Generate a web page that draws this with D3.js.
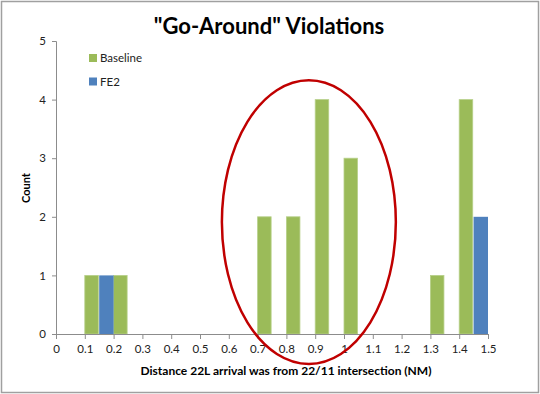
<!DOCTYPE html>
<html><head><meta charset="utf-8">
<script src="https://cdn.jsdelivr.net/npm/d3@7"></script>
<style>body{margin:0;background:#fff}svg{display:block}</style>
</head><body>
<script>
const title = '"Go-Around" Violations';
const xTicks = [0,0.1,0.2,0.3,0.4,0.5,0.6,0.7,0.8,0.9,1.0,1.1,1.2,1.3,1.4,1.5];
const yTicks = [0,1,2,3,4,5];
const baselineX = [0.1,0.2,0.7,0.8,0.9,1.0,1.3,1.4];
const baselineY = [1,1,2,2,4,3,1,4];
const fe2X = [0.1,1.4];
const fe2Y = [1,2];
const seriesNames = ["Baseline","FE2"];
const colors = ["#9BBB59","#4F81BD"];
// highlighted region (data units): center x, center y, x radius, y radius
const ellipse = {cx:0.878, cy:1.91, rx:0.302, ry:2.42};

const W=540,H=394;
const svg=d3.select("body").append("svg").attr("width",W).attr("height",H);
svg.append("rect").attr("x",1.5).attr("y",1.5).attr("width",W-3).attr("height",H-3)
  .attr("fill","#fff").attr("stroke","#a0a0a0").attr("stroke-width",1.5);
const font="Lato, 'Open Sans', sans-serif";
const x=d3.scaleLinear().domain([0,1.5]).range([56,488]);
const y=d3.scaleLinear().domain([0,5]).range([334,41]);

svg.append("text").attr("x",269).attr("y",34).attr("text-anchor","middle")
  .attr("font-family",font).attr("font-weight","bold").attr("font-size",22).text(title);

const bw=0.047;
const g=svg.append("g");
g.selectAll(".b").data(baselineX).enter().append("rect")
  .attr("x",d=>x(d)).attr("width",x(bw)-x(0))
  .attr("y",(d,i)=>y(baselineY[i])).attr("height",(d,i)=>y(0)-y(baselineY[i]))
  .attr("fill",colors[0]).attr("stroke","#b7d08a").attr("stroke-width",0.8);
g.selectAll(".f").data(fe2X).enter().append("rect")
  .attr("x",d=>x(d+0.05)).attr("width",x(0.05)-x(0))
  .attr("y",(d,i)=>y(fe2Y[i])).attr("height",(d,i)=>y(0)-y(fe2Y[i]))
  .attr("fill",colors[1]);

const xa=svg.append("g").attr("transform",`translate(0,${y(0)})`)
  .call(d3.axisBottom(x).tickValues(xTicks).tickSize(5).tickPadding(6).tickFormat(d=>String(+d.toFixed(1))));
const ya=svg.append("g").attr("transform",`translate(${x(0)},0)`)
  .call(d3.axisLeft(y).tickValues(yTicks).tickSize(4).tickPadding(6).tickFormat(d3.format("d")));
[xa,ya].forEach(a=>{
  a.select(".domain").attr("stroke","#8c8c8c");
  a.selectAll(".tick line").attr("stroke","#8c8c8c");
  a.selectAll("text").attr("font-family",font).attr("font-size",11.5).attr("fill","#222");
});

svg.append("text").attr("x",286).attr("y",375).attr("text-anchor","middle")
  .attr("font-family",font).attr("font-weight","bold").attr("font-size",12)
  .text("Distance  22L arrival was from 22/11 intersection (NM)");
svg.append("text").attr("transform","translate(30,188) rotate(-90)").attr("text-anchor","middle")
  .attr("font-family",font).attr("font-weight","bold").attr("font-size",11).text("Count");

const lg=svg.append("g");
seriesNames.forEach((n,i)=>{
  lg.append("rect").attr("x",89).attr("y",54+i*23.5).attr("width",8).attr("height",8).attr("fill",colors[i]);
  lg.append("text").attr("x",100).attr("y",62+i*23.5).attr("font-family",font).attr("font-size",11.5).attr("fill","#222").text(n);
});

svg.append("ellipse").attr("cx",x(ellipse.cx)).attr("cy",y(ellipse.cy))
  .attr("rx",x(ellipse.rx)-x(0)).attr("ry",y(0)-y(ellipse.ry))
  .attr("fill","none").attr("stroke","#C00000").attr("stroke-width",2.5);
</script>
</body></html>
